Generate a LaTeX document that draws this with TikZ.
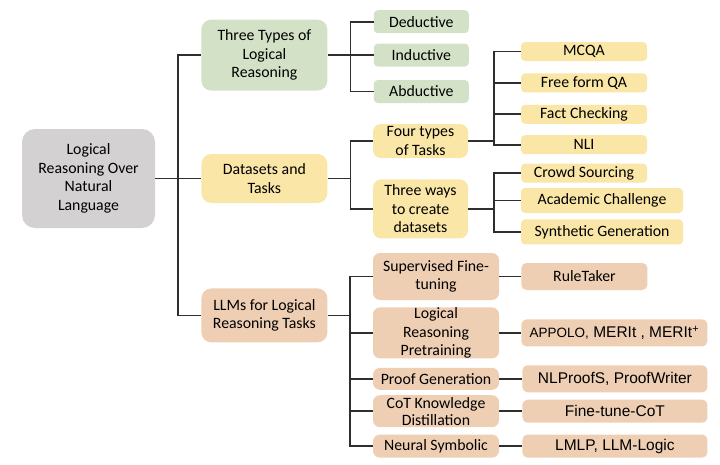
\documentclass[tikz,border=0pt]{standalone}
\usepackage{fontspec}
\setmainfont{Carlito}
\newfontfamily\arialfont{Liberation Sans}
\usepackage{xcolor}
\usepackage{tikz}
\usetikzlibrary{shapes,arrows,positioning,fit,backgrounds}

\definecolor{rootgray}{HTML}{D3D1D2}
\definecolor{typegreen}{HTML}{D3E2C6}
\definecolor{datayellow}{HTML}{FAE6A7}
\definecolor{llmtan}{HTML}{EFCFB4}
\definecolor{linegray}{HTML}{2E2E2E}

\begin{document}
\begin{tikzpicture}[x=1pt, y=-1pt, every node/.style={font=\fontsize{15.8}{18.5}\selectfont}]
\tikzstyle{box}=[rectangle,rounded corners=4pt,inner sep=0pt,align=center,text=black]
\tikzstyle{rootbox}=[box,fill=rootgray,rounded corners=13pt,minimum width=133pt,minimum height=99pt]
\tikzstyle{topbox}=[box,rounded corners=10pt,minimum width=126pt]
\tikzstyle{greenleaf}=[box,fill=typegreen,minimum width=95pt,minimum height=23pt]
\tikzstyle{yellowbox}=[box,fill=datayellow,rounded corners=8pt,minimum width=95pt]
\tikzstyle{yellowleaf}=[box,fill=datayellow,minimum width=126pt,minimum height=19pt]
\tikzstyle{tanbox}=[box,fill=llmtan,rounded corners=7pt,minimum width=126pt]
\tikzstyle{tanleaf}=[box,fill=llmtan,rounded corners=5pt,minimum height=27pt]
\tikzstyle{link}=[draw=linegray,line width=1.7pt]
\useasboundingbox (0,0) rectangle (720,464);

% root and first level
\node[rootbox] (root) at (88.5,178.5) {Logical\\Reasoning Over\\Natural\\Language};
\node[topbox,fill=datayellow,minimum height=49pt,right=46pt of root] (data) {Datasets and\\Tasks};
\node[topbox,fill=typegreen,minimum height=71pt,above=63pt of data] (types) {Three Types of\\Logical\\Reasoning};
\node[topbox,fill=llmtan,minimum height=54pt,below=85pt of data] (llms) {LLMs for Logical\\Reasoning Tasks};

% types of reasoning
\node[greenleaf,right=46pt of types] (induct) {Inductive};
\node[greenleaf,above=10pt of induct] (deduct) {Deductive};
\node[greenleaf,below=13pt of induct] (abduct) {Abductive};

% datasets and tasks
\node[yellowbox,minimum height=34pt] (four) at (420.5,141) {Four types\\of Tasks};
\node[yellowbox,minimum height=59pt,below=21pt of four] (three) {Three ways\\to create\\datasets};
\node[yellowleaf] (mcqa) at (584,51.5) {MCQA};
\node[yellowleaf,below=12pt of mcqa] (freeqa) {Free form QA};
\node[yellowleaf,below=12pt of freeqa] (factcheck) {Fact Checking};
\node[yellowleaf,below=11pt of factcheck] (nli) {NLI};
\node[yellowleaf,below=9pt of nli] (crowd) {Crowd Sourcing};
\node[yellowleaf,minimum width=162pt,minimum height=25pt,below=5pt of crowd.south west,anchor=north west] (academic) {Academic Challenge};
\node[yellowleaf,minimum width=162pt,minimum height=25pt,below=6pt of academic] (synth) {Synthetic Generation};

% llms for logical reasoning
\node[tanbox,minimum height=47pt] (sft) at (436,276.5) {Supervised Fine-\\tuning};
\node[tanbox,minimum height=51pt,below=7pt of sft] (pretrain) {Logical\\Reasoning\\Pretraining};
\node[tanbox,minimum height=22pt,below=9pt of pretrain] (proofgen) {Proof Generation};
\node[tanbox,minimum height=32pt,below=5pt of proofgen,font=\fontsize{15.8}{17}\selectfont] (cot) {CoT Knowledge\\Distillation};
\node[tanbox,minimum height=23pt,below=7pt of cot] (neurosym) {Neural Symbolic};
\node[tanleaf,minimum width=126pt,right=22pt of sft] (ruletaker) {RuleTaker};
\node[tanleaf,minimum width=186pt,right=22pt of pretrain,font=\arialfont\fontsize{15.5}{18}\selectfont] (appolo) {{\fontsize{13.5}{16}\selectfont APPOLO,} MERIt , MERIt\textsuperscript{+}};
\node[tanleaf,minimum width=185pt,right=23pt of proofgen,font=\arialfont\fontsize{15.5}{18}\selectfont] (nlproofs) {NLProofS, ProofWriter};
\node[tanleaf,minimum width=185pt,minimum height=23pt,right=23pt of cot,font=\arialfont\fontsize{15.5}{18}\selectfont] (finetune) {Fine-tune-CoT};
\node[tanleaf,minimum width=185pt,minimum height=23pt,right=23pt of neurosym,font=\arialfont\fontsize{15.5}{18}\selectfont] (lmlp) {LMLP, LLM-Logic};

% connectors
\draw[link] (root) -- (data);
\draw[link] (types.west) -- ++(-23,0) |- (llms.west);
\draw[link] (types) -- (induct);
\draw[link] (deduct.west) -- ++(-23,0) |- (abduct.west);
\draw[link] (data.east) -- ++(23,0) coordinate (dbr);
\draw[link] (four.west) -| (dbr) |- (three.west);
\draw[link] (four.east) -- ++(26,0);
\draw[link] (mcqa.west) -- ++(-27,0) |- (nli.west);
\foreach \n in {freeqa,factcheck}
  \draw[link] (\n.west) -- ++(-27,0);
\draw[link] (three.east) -- ++(26,0);
\draw[link] (crowd.west) -- ++(-27,0) |- (synth.west);
\draw[link] (academic.west) -- ++(-27,0);
\draw[link] (llms.east) -- ++(23,0);
\draw[link] (sft.west) -- ++(-23,0) |- (neurosym.west);
\foreach \n in {pretrain,proofgen,cot}
  \draw[link] (\n.west) -- ++(-23,0);
\foreach \a/\b in {sft/ruletaker,pretrain/appolo,proofgen/nlproofs,cot/finetune,neurosym/lmlp}
  \draw[link] (\a) -- (\b);
\end{tikzpicture}
\end{document}
